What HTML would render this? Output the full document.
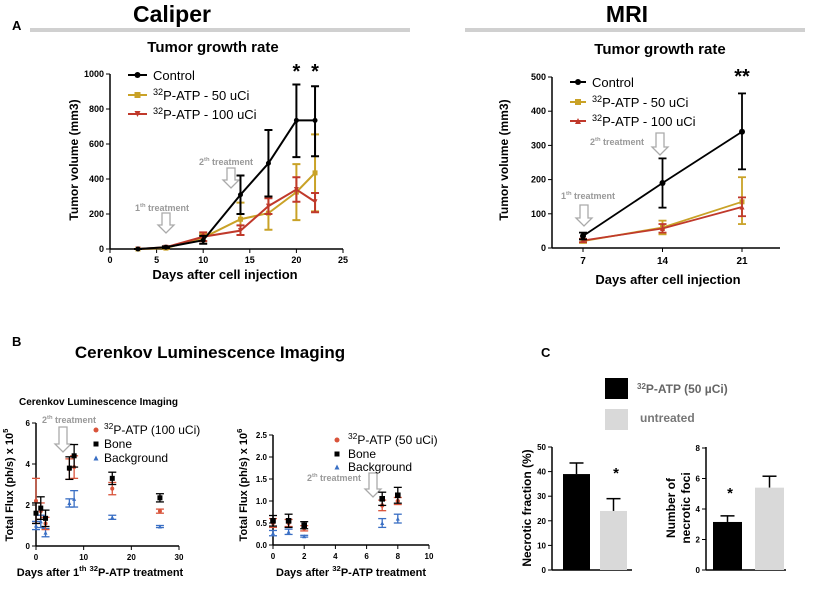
<!DOCTYPE html>
<html><head><meta charset="utf-8"><style>
html,body{margin:0;padding:0;background:#fff;}
svg{display:block;font-family:"Liberation Sans",Arial,sans-serif;}
.b{font-weight:bold;}
</style></head><body>
<svg id="fig" width="824" height="593" viewBox="0 0 824 593" xmlns="http://www.w3.org/2000/svg">
<rect width="824" height="593" fill="#fff"/>
<text x="12" y="30" class="b" font-size="13">A</text>
<text x="172" y="22" class="b" font-size="23" text-anchor="middle">Caliper</text>
<rect x="30" y="28" width="380" height="4" fill="#d0d0d0"/>
<text x="627" y="22" class="b" font-size="23" text-anchor="middle">MRI</text>
<rect x="465" y="28" width="340" height="4" fill="#d0d0d0"/>
<text x="213" y="52" class="b" font-size="15" text-anchor="middle">Tumor growth rate</text>
<text x="660" y="54" class="b" font-size="15" text-anchor="middle">Tumor growth rate</text>
<text x="12" y="346" class="b" font-size="13">B</text>
<text x="210" y="358" class="b" font-size="17" text-anchor="middle">Cerenkov Luminescence Imaging</text>
<text x="19" y="405" class="b" font-size="10">Cerenkov Luminescence Imaging</text>
<text x="541" y="357" class="b" font-size="13">C</text>
<rect x="605" y="378" width="23" height="21" fill="#000"/>
<text x="637" y="393" class="b" font-size="12" fill="#666"><tspan font-size="8" dy="-4">32</tspan><tspan dy="4">P-ATP (50 µCi)</tspan></text>
<rect x="605" y="409" width="23" height="21" fill="#d9d9d9"/>
<text x="640" y="422" class="b" font-size="12" fill="#777">untreated</text>
<g id="g"></g>
</svg>
<script>
// ---- Caliper data ----
const calDays=[3,6,10,14,17,20,22];
const calCtrl=[0,10,50,310,490,735,735];
const calCtrlLo=[0,5,30,200,300,525,530];
const calCtrlHi=[0,15,75,420,680,940,930];
const cal50=[0,5,65,170,205,325,435];
const cal50Lo=[0,0,45,80,110,165,215];
const cal50Hi=[0,10,85,265,300,485,655];
const cal100=[0,10,70,105,245,340,270];
const cal100Lo=[0,5,45,80,200,270,210];
const cal100Hi=[0,15,95,135,290,410,320];
const calXTicks=[0,5,10,15,20,25];
const calYTicks=[0,200,400,600,800,1000];
// ---- MRI data ----
const mriDays=[7,14,21];
const mriCtrl=[35,190,340];
const mriCtrlLo=[25,118,230];
const mriCtrlHi=[45,262,452];
const mri50=[20,60,135];
const mri50Lo=[15,40,70];
const mri50Hi=[25,80,207];
const mri100=[22,57,120];
const mri100Lo=[17,45,93];
const mri100Hi=[27,70,148];
const mriYTicks=[0,100,200,300,400,500];
// ---- CLI left ----
const cliLDays=[0,1,2,7,8,16,26];
const cliLBone=[1.6,1.85,1.35,3.8,4.4,3.3,2.35];
const cliLBoneErr=[0.5,0.55,0.4,0.55,0.55,0.3,0.2];
const cliLRed=[2.2,1.7,1.1,3.75,3.85,2.8,1.7];
const cliLRedErr=[1.1,0.4,0.3,0.5,0.55,0.3,0.1];
const cliLBlue=[1.0,1.2,0.65,2.1,2.3,1.4,0.95];
const cliLBlueErr=[0.2,0.3,0.2,0.2,0.4,0.1,0.05];
const cliLXTicks=[0,10,20,30];
const cliLYTicks=[0,2,4,6];
// ---- CLI right ----
const cliRDays=[0,1,2,7,8];
const cliRBone=[0.55,0.55,0.45,1.05,1.13];
const cliRBoneErr=[0.12,0.15,0.08,0.15,0.18];
const cliRRed=[0.5,0.5,0.38,0.9,1.0];
const cliRRedErr=[0.1,0.08,0.06,0.12,0.08];
const cliRBlue=[0.27,0.3,0.2,0.5,0.6];
const cliRBlueErr=[0.06,0.06,0.02,0.1,0.1];
const cliRXTicks=[0,2,4,6,8,10];
const cliRYTicks=[0,0.5,1.0,1.5,2.0,2.5];
// ---- Panel C ----
const necCats=['treated','untreated'];
const necFrac=[39,24];
const necFracErr=[4.5,5];
const necFoci=[3.15,5.4];
const necFociErr=[0.4,0.75];
const necFracTicks=[0,10,20,30,40,50];
const necFociTicks=[0,2,4,6,8];

const NS='http://www.w3.org/2000/svg';
const G=document.getElementById('g');
function mk(tag,at,parent){const e=document.createElementNS(NS,tag);for(const k in at)e.setAttribute(k,at[k]);(parent||G).appendChild(e);return e;}
function txt(s,at,parent){const e=mk('text',at,parent);e.textContent=s;return e;}
function lin(d0,d1,r0,r1){return v=>r0+(v-d0)*(r1-r0)/(d1-d0);}
function axes(name,x0,x1,y0,y1,xs,ys,xt,yt,fmtY,fs){
  const ax=mk('g',{});
  
  
  mk('line',{x1:x0,y1:y0,x2:x0,y2:y1,stroke:'#000','stroke-width':1.5},ax);
  if(xt) mk('line',{x1:x0,y1:y0,x2:x1,y2:y0,stroke:'#000','stroke-width':1.5},ax);
  (yt||[]).forEach(v=>{const y=ys(v);mk('line',{x1:x0-4,y1:y,x2:x0,y2:y,stroke:'#000'},ax);
    const t=txt(fmtY?fmtY(v):v,{x:x0-6,y:y+3,'font-size':fs||9,'text-anchor':'end',class:'b'},ax);
    
    });
  (xt||[]).forEach(v=>{const x=xs(v);mk('line',{x1:x,y1:y0,x2:x,y2:y0+4,stroke:'#000'},ax);
    const t=txt(v,{x:x,y:y0+14,'font-size':fs||9,'text-anchor':'middle',class:'b'},ax);
    
    });
}
function marker(shape,x,y,c,s,parent){
  if(shape==='circle')return mk('circle',{cx:x,cy:y,r:s,fill:c},parent);
  if(shape==='square')return mk('rect',{x:x-s,y:y-s,width:2*s,height:2*s,fill:c},parent);
  if(shape==='tdown')return mk('polygon',{points:`${x-s},${y-s} ${x+s},${y-s} ${x},${y+s}`,fill:c},parent);
  return mk('polygon',{points:`${x-s},${y+s} ${x+s},${y+s} ${x},${y-s}`,fill:c},parent);
}
function series(name,xsArr,ys_,lo,hi,xs,ys,c,shape,lineOn,w,ms){
  const g=mk('g',{});
  
  
  if(lineOn){mk('polyline',{points:xsArr.map((d,i)=>xs(d)+','+ys(ys_[i])).join(' '),fill:'none',stroke:c,'stroke-width':w},g);}
  xsArr.forEach((d,i)=>{const x=xs(d);
    mk('line',{x1:x,y1:ys(lo[i]),x2:x,y2:ys(hi[i]),stroke:c,'stroke-width':w},g);
    mk('line',{x1:x-4,y1:ys(lo[i]),x2:x+4,y2:ys(lo[i]),stroke:c,'stroke-width':w},g);
    mk('line',{x1:x-4,y1:ys(hi[i]),x2:x+4,y2:ys(hi[i]),stroke:c,'stroke-width':w},g);
    const m=marker(shape,x,ys(ys_[i]),c,ms,g);
    
    });
}
function arrow(name,x,yTop,h,label,lx,ly,fs){
  const g=mk('g',{});
  
  
  const w=4,hw=8,ah=8;
  mk('polygon',{points:`${x-w},${yTop} ${x+w},${yTop} ${x+w},${yTop+h-ah} ${x+hw},${yTop+h-ah} ${x},${yTop+h} ${x-hw},${yTop+h-ah} ${x-w},${yTop+h-ah}`,fill:'#fff',stroke:'#aaa','stroke-width':1.3},g);
  const t=txt('',{x:lx,y:ly,'font-size':fs,fill:'#999',class:'b'},g);
  t.innerHTML=label+'<tspan font-size="'+(fs*0.65)+'" dy="-4">th</tspan><tspan dy="4"> treatment</tspan>';
}
function legendLine(name,x,y,c,shape,label,fs,len){
  const g=mk('g',{});
  
  
  mk('line',{x1:x,y1:y,x2:x+len,y2:y,stroke:c,'stroke-width':2},g);
  marker(shape,x+len/2,y,c,3,g);
  const t=txt('',{x:x+len+6,y:y+5,'font-size':fs},g);
  t.innerHTML=label;
}
function rotText(name,s,x,y,fs){const t=txt('',{x:0,y:0,'font-size':fs,class:'b','text-anchor':'middle',transform:`translate(${x},${y}) rotate(-90)`});t.innerHTML=s;
  
  }
const GOLD='#c9a227',RED='#c0392b',BLUE='#3a6fc4',REDO='#d9533a';
const SUP=s=>'<tspan font-size="70%" dy="-5">'+s+'</tspan><tspan dy="5">';

// Caliper chart
{const xs=lin(0,25,110,343),ys=lin(0,1000,249,74);
 axes('caliper',110,343,249,74,xs,ys,calXTicks,calYTicks);
 arrow('caliper-arrow-1',166,213,20,'1',135,211,9);
 arrow('caliper-arrow-2',231,168,20,'2',199,165,9);
 series('caliper-series-50uci',calDays,cal50,cal50Lo,cal50Hi,xs,ys,GOLD,'square',true,2,2.5);
 series('caliper-series-100uci',calDays,cal100,cal100Lo,cal100Hi,xs,ys,RED,'tdown',true,2,2.5);
 series('caliper-series-control',calDays,calCtrl,calCtrlLo,calCtrlHi,xs,ys,'#000','circle',true,2,2.5);
 [20,22].forEach(d=>{const t=txt('*',{x:xs(d),y:78,'font-size':20,'text-anchor':'middle',class:'b'});
   
   });
 legendLine('caliper-legend-control',128,75,'#000','circle','Control',13,19);
 legendLine('caliper-legend-50uci',128,95,GOLD,'square',SUP('32')+'P-ATP - 50 uCi</tspan>',13,19);
 legendLine('caliper-legend-100uci',128,114,RED,'tdown',SUP('32')+'P-ATP - 100 uCi</tspan>',13,19);
 rotText('caliper-y-axis-title','Tumor volume  (mm3)',78,160,12);
 const t=txt('Days after cell injection',{x:225,y:279,'font-size':13,class:'b','text-anchor':'middle'});
 
 }

// MRI chart
{const xs=lin(7,21,583,742),ys=lin(0,500,248,77);
 axes('mri',552,780,248,77,xs,ys,null,mriYTicks);
 mk('line',{x1:552,y1:248,x2:780,y2:248,stroke:'#000','stroke-width':1.5});
 mriDays.forEach(d=>{mk('line',{x1:xs(d),y1:248,x2:xs(d),y2:252,stroke:'#000'});
   const t=txt(d,{x:xs(d),y:264,'font-size':10,'text-anchor':'middle',class:'b'});
   
   });
 arrow('mri-arrow-1',584,205,21,'1',561,199,9);
 arrow('mri-arrow-2',660,133,22,'2',590,145,9);
 series('mri-series-50uci',mriDays,mri50,mri50Lo,mri50Hi,xs,ys,GOLD,'square',true,1.8,2.5);
 series('mri-series-100uci',mriDays,mri100,mri100Lo,mri100Hi,xs,ys,RED,'tup',true,1.8,2.5);
 series('mri-series-control',mriDays,mriCtrl,mriCtrlLo,mriCtrlHi,xs,ys,'#000','circle',true,1.8,3);
 const s=txt('**',{x:xs(21),y:83,'font-size':20,'text-anchor':'middle',class:'b'});
 
 
 legendLine('mri-legend-control',570,82,'#000','circle','Control',13,16);
 legendLine('mri-legend-50uci',570,102,GOLD,'square',SUP('32')+'P-ATP - 50 uCi</tspan>',13,16);
 legendLine('mri-legend-100uci',570,121,RED,'tup',SUP('32')+'P-ATP - 100 uCi</tspan>',13,16);
 rotText('mri-y-axis-title','Tumor volume (mm3)',508,160,12);
 const t=txt('Days after cell injection',{x:668,y:284,'font-size':13,class:'b','text-anchor':'middle'});
 
 }

function errLo(v,e){return v.map((x,i)=>x-e[i]);}
function errHi(v,e){return v.map((x,i)=>x+e[i]);}
// CLI left
{const xs=lin(0,30,36,179),ys=lin(0,6,546,423);
 axes('cli-left',36,179,546,423,xs,ys,cliLXTicks,cliLYTicks,null,8);
 arrow('cli-left-arrow',63,427,25,'2',42,423,9);
 series('cli-left-background',cliLDays,cliLBlue,errLo(cliLBlue,cliLBlueErr),errHi(cliLBlue,cliLBlueErr),xs,ys,BLUE,'tup',false,1.3,2);
 series('cli-left-32p',cliLDays,cliLRed,errLo(cliLRed,cliLRedErr),errHi(cliLRed,cliLRedErr),xs,ys,REDO,'circle',false,1.3,2);
 series('cli-left-bone',cliLDays,cliLBone,errLo(cliLBone,cliLBoneErr),errHi(cliLBone,cliLBoneErr),xs,ys,'#000','square',false,1.3,2.5);
 [['cli-left-legend-32p',REDO,'circle',SUP('32')+'P-ATP (100 uCi)</tspan>',434],['cli-left-legend-bone','#000','square','Bone',448],['cli-left-legend-background',BLUE,'tup','Background',462]].forEach(a=>{
   const g=mk('g',{});
   marker(a[2],96,a[4]-4,a[1],2.5,g);const t=txt('',{x:104,y:a[4],'font-size':12},g);t.innerHTML=a[3];});
 rotText('cli-left-y-axis-title','Total Flux (ph/s) x 10'+'<tspan font-size="70%" dy="-5">5</tspan>',13,485,11);
 const t=txt('',{x:100,y:576,'font-size':11,class:'b','text-anchor':'middle'});
 t.innerHTML='Days after 1'+SUP('th')+' '+'</tspan>'+SUP('32')+'P-ATP treatment</tspan>';
 
 }

// CLI right
{const xs=lin(0,10,273,429),ys=lin(0,2.5,545,435);
 axes('cli-right',273,429,545,435,xs,ys,cliRXTicks,cliRYTicks,v=>v.toFixed(1),8);
 arrow('cli-right-arrow',373,473,24,'2',307,481,9);
 series('cli-right-background',cliRDays,cliRBlue,errLo(cliRBlue,cliRBlueErr),errHi(cliRBlue,cliRBlueErr),xs,ys,BLUE,'tup',false,1.3,2);
 series('cli-right-32p',cliRDays,cliRRed,errLo(cliRRed,cliRRedErr),errHi(cliRRed,cliRRedErr),xs,ys,REDO,'circle',false,1.3,2.2);
 series('cli-right-bone',cliRDays,cliRBone,errLo(cliRBone,cliRBoneErr),errHi(cliRBone,cliRBoneErr),xs,ys,'#000','square',false,1.3,2.8);
 [['cli-right-legend-32p',REDO,'circle',SUP('32')+'P-ATP (50 uCi)</tspan>',444],['cli-right-legend-bone','#000','square','Bone',458],['cli-right-legend-background',BLUE,'tup','Background',471]].forEach(a=>{
   const g=mk('g',{});
   marker(a[2],337,a[4]-4,a[1],2.5,g);const t=txt('',{x:348,y:a[4],'font-size':12},g);t.innerHTML=a[3];});
 rotText('cli-right-y-axis-title','Total Flux (ph/s) x 10'+'<tspan font-size="70%" dy="-5">6</tspan>',247,485,11);
 const t=txt('',{x:351,y:576,'font-size':11,class:'b','text-anchor':'middle'});
 t.innerHTML='Days after '+SUP('32')+'P-ATP treatment</tspan>';
 
 }

// Bars
function bars(name,x0,ys,vals,errs,xL,w,ticks,star){
  axes(name,x0,x0,570,447,null,ys,null,ticks,null,8);
  mk('line',{x1:x0,y1:570,x2:x0+80,y2:570,stroke:'#000','stroke-width':1.5});
  const cols=['#000','#d9d9d9'];
  vals.forEach((v,i)=>{const x=xL[i];
    mk('line',{x1:x+w/2,y1:ys(v),x2:x+w/2,y2:ys(v+errs[i]),stroke:'#000','stroke-width':1.5});
    mk('line',{x1:x+w/2-7,y1:ys(v+errs[i]),x2:x+w/2+7,y2:ys(v+errs[i]),stroke:'#000','stroke-width':1.5});
    const r=mk('rect',{x:x,y:ys(v),width:w,height:570-ys(v),fill:cols[i]});
    
    });
  const s=txt('*',{x:star[0],y:star[1],'font-size':15,'text-anchor':'middle',class:'b'});
  
  
}
bars('necrotic-fraction',552,lin(0,50,570,447),necFrac,necFracErr,[563,600],27,necFracTicks,[616,478]);
rotText('necrotic-fraction-y-axis-title','Necrotic fraction (%)',531,508,12);
bars('necrotic-foci',706,lin(0,8,570,448),necFoci,necFociErr,[713,755],29,necFociTicks,[730,498]);
rotText('necrotic-foci-y-axis-title','Number of',675,508,12);
rotText('necrotic-foci-y-axis-title-2','necrotic foci',690,508,12);
</script>
</body></html>
